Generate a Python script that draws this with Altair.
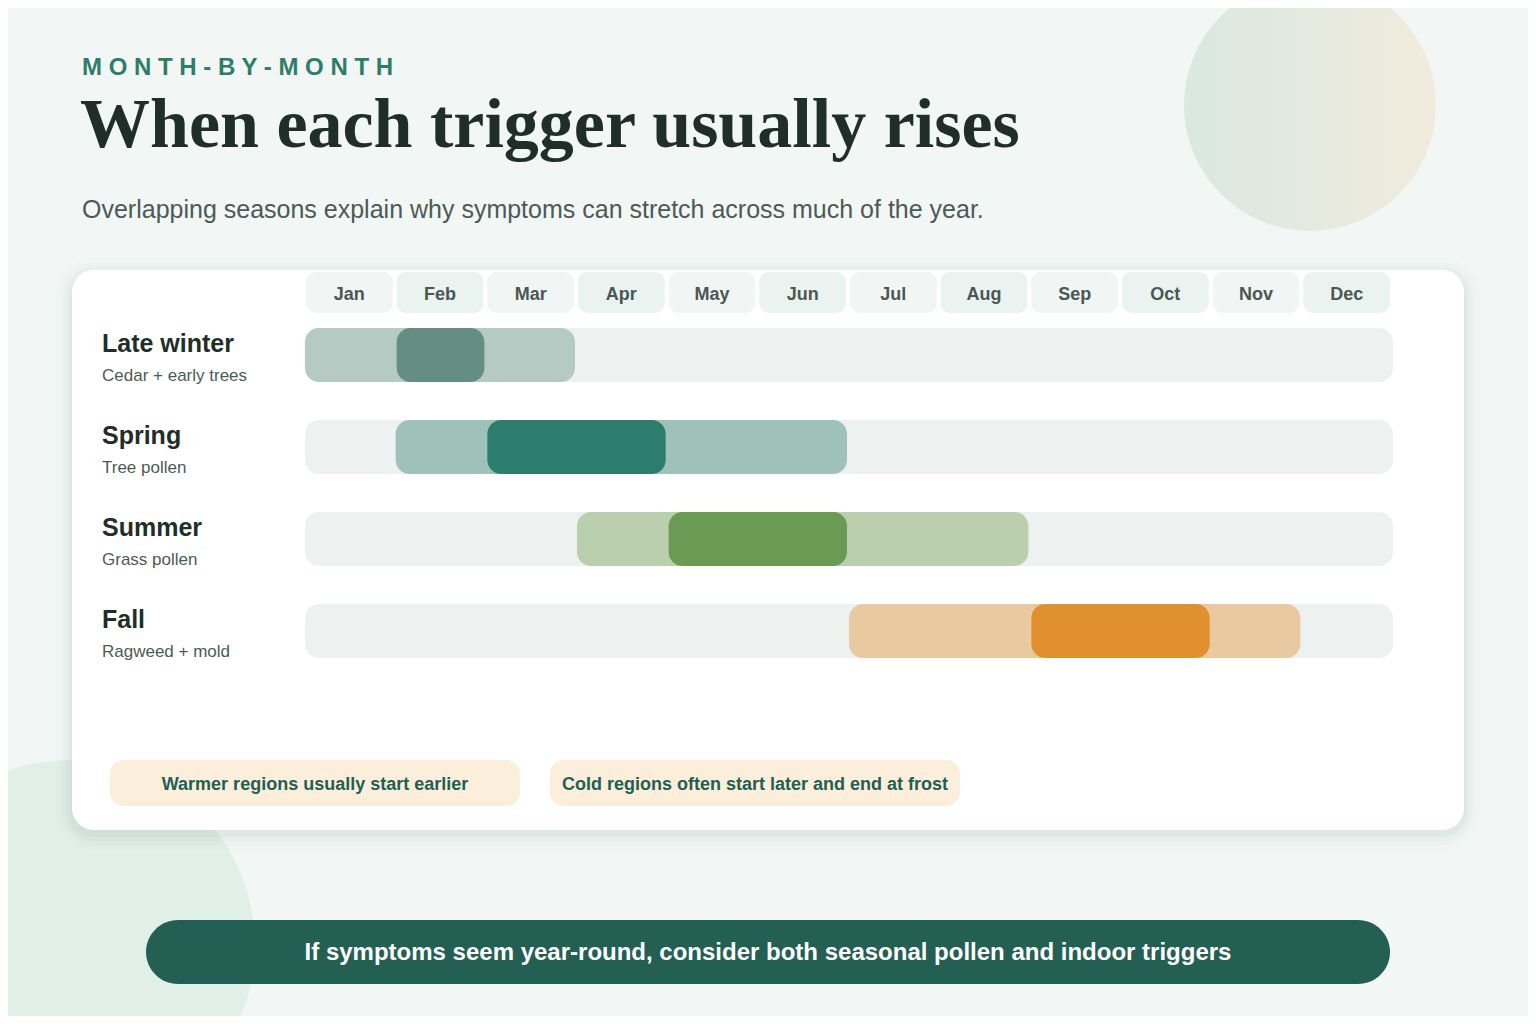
import altair as alt
import pandas as pd

# ---------------- data ----------------
months = ["Jan", "Feb", "Mar", "Apr", "May", "Jun", "Jul", "Aug", "Sep", "Oct", "Nov", "Dec"]
seasons = ["Late winter", "Spring", "Summer", "Fall"]
sublabels = ["Cedar + early trees", "Tree pollen", "Grass pollen", "Ragweed + mold"]
season_start = [0, 1, 3, 6]   # month index where the season begins
season_end = [3, 6, 8, 11]    # month index where the season ends
peak_start = [1, 2, 4, 8]
peak_end = [2, 4, 6, 10]
light_colors = ["#b5cac3", "#9ec2b9", "#b9cfad", "#e8c9a0"]
peak_colors = ["#648e81", "#2c7d6d", "#6b9a55", "#e0902e"]
notes = ["Warmer regions usually start earlier", "Cold regions often start later and end at frost"]
banner_text = "If symptoms seem year-round, consider both seasonal pollen and indoor triggers"
eyebrow = "MONTH-BY-MONTH"
title = "When each trigger usually rises"
subtitle = "Overlapping seasons explain why symptoms can stretch across much of the year."

W, H = 1520, 1008
SANS = "Liberation Sans"
SERIF = "Liberation Serif"

month_df = pd.DataFrame({
    "month": months,
    "m0": list(range(12)),
    "m1": [i + 1 for i in range(12)],
    "mc": [i + 0.5 for i in range(12)],
    "shade": ["#f1f5f4" if i % 2 == 0 else "#ebf3f0" for i in range(12)],
})
row_df = pd.DataFrame({
    "season": seasons,
    "sub": sublabels,
    "row": list(range(len(seasons))),
    "s0": season_start,
    "s1": season_end,
    "p0": peak_start,
    "p1": peak_end,
    "t0": [0] * len(seasons),
    "t1": [12] * len(seasons),
    "lc": light_colors,
    "pc": peak_colors,
})
one = pd.DataFrame({"k": [0]})

xs = alt.Scale(domain=[0, 12], range=[297, 1385], padding=0)
ys = alt.Scale(domain=[0, 3], range=[347, 623], padding=0)

# ---------------- decorations ----------------
blob_bl = alt.Chart(one).mark_circle(size=136900, color="#e1efe9", opacity=1).encode(
    x=alt.value(62), y=alt.value(937))
blob_tr = alt.Chart(one).mark_circle(
    size=63504, opacity=1,
    fill=alt.LinearGradient(gradient="linear", x1=0, y1=0, x2=1, y2=0,
                            stops=[alt.GradientStop(offset=0, color="#d9e8e1"),
                                   alt.GradientStop(offset=1, color="#f1ebdc")])
).encode(x=alt.value(1302), y=alt.value(97))

shadows = []
for g, op in [(16, 0.012), (11, 0.018), (7, 0.025), (3, 0.035)]:
    shadows.append(alt.Chart(one).mark_rect(cornerRadius=22 + g, color="#2d5a4c", opacity=op).encode(
        x=alt.value(64 - g), x2=alt.value(1456 + g), y=alt.value(262 - g + 4), y2=alt.value(822 + g + 4)))

card = alt.Chart(one).mark_rect(cornerRadius=22, color="#ffffff").encode(
    x=alt.value(64), x2=alt.value(1456), y=alt.value(262), y2=alt.value(822))

# ---------------- header ----------------
eyebrow_t = alt.Chart(one).mark_text(
    text=" ".join(list(eyebrow)), font=SANS, fontSize=24, fontWeight="bold",
    color="#2e7d6b", align="left", baseline="alphabetic").encode(x=alt.value(74), y=alt.value(67))
title_t = alt.Chart(one).mark_text(
    text=title, font=SERIF, fontSize=70, fontWeight="bold",
    color="#1f2e29", align="left", baseline="alphabetic").encode(x=alt.value(72), y=alt.value(139))
subtitle_t = alt.Chart(one).mark_text(
    text=subtitle, font=SANS, fontSize=25, color="#4b5a56",
    align="left", baseline="alphabetic").encode(x=alt.value(74), y=alt.value(210))

# ---------------- month header ----------------
month_pills = alt.Chart(month_df).mark_rect(cornerRadius=10, xOffset=1, x2Offset=-3).encode(
    x=alt.X("m0:Q", scale=xs, axis=None),
    x2="m1:Q",
    y=alt.value(264), y2=alt.value(305),
    color=alt.Color("shade:N", scale=None, legend=None),
)
month_text = alt.Chart(month_df).mark_text(
    font=SANS, fontSize=18, fontWeight="bold", color="#4a5753", baseline="middle", dx=-1).encode(
    x=alt.X("mc:Q", scale=xs, axis=None),
    y=alt.value(287),
    text="month:N",
)

# ---------------- rows ----------------
tracks = alt.Chart(row_df).mark_bar(size=54, cornerRadius=14, color="#edf2f0").encode(
    x=alt.X("t0:Q", scale=xs, axis=None), x2="t1:Q",
    y=alt.Y("row:Q", scale=ys, axis=None),
)
light = alt.Chart(row_df).mark_bar(size=54, cornerRadius=14, x2Offset=-2).encode(
    x=alt.X("s0:Q", scale=xs, axis=None), x2="s1:Q",
    y=alt.Y("row:Q", scale=ys, axis=None),
    color=alt.Color("lc:N", scale=None, legend=None),
)
peak = alt.Chart(row_df).mark_bar(size=54, cornerRadius=14, xOffset=1, x2Offset=-2).encode(
    x=alt.X("p0:Q", scale=xs, axis=None), x2="p1:Q",
    y=alt.Y("row:Q", scale=ys, axis=None),
    color=alt.Color("pc:N", scale=None, legend=None),
)
label_main = alt.Chart(row_df).mark_text(
    font=SANS, fontSize=25, fontWeight="bold", color="#1f2e29", align="left",
    baseline="alphabetic", dy=-3).encode(
    x=alt.value(94), y=alt.Y("row:Q", scale=ys, axis=None), text="season:N")
label_sub = alt.Chart(row_df).mark_text(
    font=SANS, fontSize=17, color="#4d5b57", align="left", baseline="alphabetic", dy=26).encode(
    x=alt.value(94), y=alt.Y("row:Q", scale=ys, axis=None), text="sub:N")

# ---------------- notes ----------------
note_layers = []
for i, txt in enumerate(notes):
    x0 = 102 + i * 440
    note_layers.append(alt.Chart(one).mark_rect(cornerRadius=14, color="#fbeedb").encode(
        x=alt.value(x0), x2=alt.value(x0 + 410), y=alt.value(752), y2=alt.value(798)))
    note_layers.append(alt.Chart(one).mark_text(
        text=txt, font=SANS, fontSize=18, fontWeight="bold", color="#235e52",
        baseline="middle").encode(x=alt.value(x0 + 205), y=alt.value(777)))

# ---------------- banner ----------------
banner = alt.Chart(one).mark_rect(cornerRadius=32, color="#245f54").encode(
    x=alt.value(138), x2=alt.value(1382), y=alt.value(912), y2=alt.value(976))
banner_t = alt.Chart(one).mark_text(
    text=banner_text, font=SANS, fontSize=24, fontWeight="bold", color="#ffffff",
    baseline="middle").encode(x=alt.value(760), y=alt.value(945))

chart = alt.layer(
    blob_bl, blob_tr, *shadows, card,
    eyebrow_t, title_t, subtitle_t,
    month_pills, month_text,
    tracks, light, peak, label_main, label_sub,
    *note_layers, banner, banner_t,
).properties(
    width=W, height=H,
    autosize=alt.AutoSizeParams(type="none"),
    padding=0,
    background="#f2f7f5",
).configure_view(stroke=None)

chart.save("out.html", embed_options={"renderer": "svg", "actions": False})
